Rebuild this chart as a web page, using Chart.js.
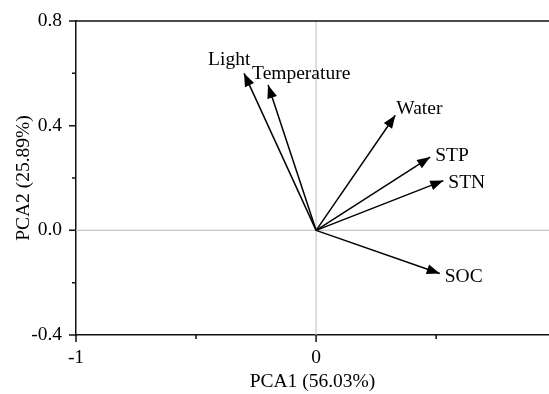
<!DOCTYPE html>
<html lang="en">

<head>
    <meta charset="UTF-8">
    <script src="https://cdn.jsdelivr.net/npm/chart.js"></script>
    <title>PCA biplot</title>
    <style>
        body {
            margin: 0;
            background: #fff;
        }

        #chart_container {
            width: 549px;
            height: 394px;
        }
    </style>
</head>

<body>
    <div id="chart_container">
        <canvas id="pca_canvas" width="549" height="394"></canvas>
    </div>

    <script>
        // Loadings
        const variables = ['Light', 'Temperature', 'Water', 'STP', 'STN', 'SOC'];
        const pca1 = [-0.30, -0.20, 0.33, 0.475, 0.53, 0.515];
        const pca2 = [0.60, 0.555, 0.44, 0.28, 0.19, -0.165];

        const xTicks = [-1, -0.5, 0, 0.5];
        const yTicks = [-0.4, -0.2, 0, 0.2, 0.4, 0.6, 0.8];

        // Label placement relative to arrow tip (pixels)
        const labelOffsets = [[-36, -13], [-16, -11], [1, -6], [5, -1], [5, 2], [5, 3]];

        const FONT = '"Liberation Serif", "Times New Roman", serif';
        const FONT_SIZE = 19.5;

        const datasets = variables.map((name, i) => ({
            label: name,
            data: [{ x: 0, y: 0 }, { x: pca1[i], y: pca2[i] }],
            showLine: true,
            borderColor: '#000',
            borderWidth: 1.5,
            pointRadius: 0,
            fill: false
        }));

        // Zero lines, top frame and tick marks
        const framePlugin = {
            id: 'frame',
            beforeDatasetsDraw(chart) {
                const { ctx, chartArea, scales } = chart;
                ctx.save();
                ctx.strokeStyle = '#c8c8c8';
                ctx.lineWidth = 1.2;
                const x0 = scales.x.getPixelForValue(0);
                const y0 = scales.y.getPixelForValue(0);
                ctx.beginPath();
                ctx.moveTo(x0, chartArea.top);
                ctx.lineTo(x0, chartArea.bottom);
                ctx.moveTo(chartArea.left, y0);
                ctx.lineTo(chartArea.right, y0);
                ctx.stroke();

                ctx.strokeStyle = '#111';
                ctx.lineWidth = 1.5;
                ctx.beginPath();
                ctx.moveTo(chartArea.left, chartArea.top);
                ctx.lineTo(chartArea.right, chartArea.top);
                yTicks.forEach(v => {
                    const y = scales.y.getPixelForValue(v);
                    const len = Math.abs(v * 10 % 4) < 0.01 ? 7 : 4;
                    ctx.moveTo(chartArea.left - len, y);
                    ctx.lineTo(chartArea.left, y);
                });
                xTicks.forEach(v => {
                    const x = scales.x.getPixelForValue(v);
                    const len = Number.isInteger(v) ? 7 : 4;
                    ctx.moveTo(x, chartArea.bottom);
                    ctx.lineTo(x, chartArea.bottom + len);
                });
                ctx.stroke();
                ctx.restore();
            }
        };

        // Arrow heads and variable names
        const arrowPlugin = {
            id: 'arrows',
            afterDatasetsDraw(chart) {
                const { ctx, scales } = chart;
                const ox = scales.x.getPixelForValue(0);
                const oy = scales.y.getPixelForValue(0);
                ctx.save();
                ctx.fillStyle = '#000';
                ctx.font = FONT_SIZE + 'px ' + FONT;
                ctx.textBaseline = 'middle';
                ctx.textAlign = 'left';
                variables.forEach((name, i) => {
                    const tx = scales.x.getPixelForValue(pca1[i]);
                    const ty = scales.y.getPixelForValue(pca2[i]);
                    const ang = Math.atan2(ty - oy, tx - ox);
                    const L = 13, W = 5;
                    ctx.beginPath();
                    ctx.moveTo(tx, ty);
                    ctx.lineTo(tx - L * Math.cos(ang) + W * Math.sin(ang), ty - L * Math.sin(ang) - W * Math.cos(ang));
                    ctx.lineTo(tx - L * Math.cos(ang) - W * Math.sin(ang), ty - L * Math.sin(ang) + W * Math.cos(ang));
                    ctx.closePath();
                    ctx.fill();
                    ctx.fillText(name, tx + labelOffsets[i][0], ty + labelOffsets[i][1]);
                });
                ctx.restore();
            }
        };

        const ctx = document.getElementById('pca_canvas').getContext('2d');
        const chart = new Chart(ctx, {
            type: 'scatter',
            data: { datasets: datasets },
            options: {
                responsive: false,
                animation: false,
                layout: { padding: { top: 21, right: 0, left: 0, bottom: 0 } },
                plugins: {
                    legend: { display: false },
                    tooltip: { enabled: false }
                },
                scales: {
                    x: {
                        min: -1,
                        max: 0.97,
                        afterBuildTicks: scale => { scale.ticks = xTicks.map(v => ({ value: v })); },
                        afterFit: scale => {
                            scale.height = 59;
                            scale.paddingLeft = 0;
                            scale.paddingRight = 0;
                        },
                        grid: { display: false, drawTicks: false },
                        border: { display: true, color: '#111', width: 1.5 },
                        ticks: {
                            padding: 11,
                            color: '#000',
                            maxRotation: 0,
                            font: { family: FONT, size: FONT_SIZE },
                            callback: v => Number.isInteger(v) ? String(v) : ''
                        },
                        title: {
                            display: true,
                            text: 'PCA1 (56.03%)',
                            color: '#000',
                            padding: { top: 2, bottom: 0 },
                            font: { family: FONT, size: FONT_SIZE }
                        }
                    },
                    y: {
                        min: -0.4,
                        max: 0.8,
                        afterBuildTicks: scale => { scale.ticks = yTicks.map(v => ({ value: v })); },
                        afterFit: scale => {
                            scale.width = 76;
                            scale.paddingTop = 0;
                            scale.paddingBottom = 0;
                        },
                        grid: { display: false, drawTicks: false },
                        border: { display: true, color: '#111', width: 1.5 },
                        ticks: {
                            padding: 14,
                            color: '#000',
                            font: { family: FONT, size: FONT_SIZE },
                            callback: v => Math.abs(v * 10 % 4) < 0.01 ? v.toFixed(1) : ''
                        },
                        title: {
                            display: true,
                            text: 'PCA2 (25.89%)',
                            color: '#000',
                            padding: { top: 12, bottom: 4 },
                            font: { family: FONT, size: FONT_SIZE }
                        }
                    }
                }
            },
            plugins: [framePlugin, arrowPlugin]
        });
    </script>
</body>

</html>
